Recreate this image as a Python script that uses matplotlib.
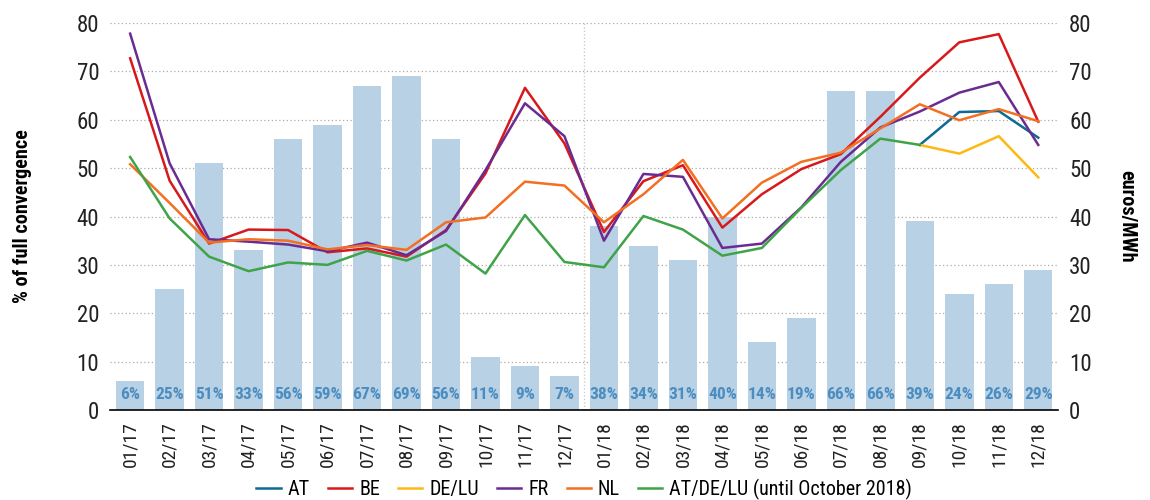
import matplotlib
matplotlib.use("Agg")
import matplotlib.pyplot as plt
from matplotlib import font_manager
import numpy as np

months = ["01/17", "02/17", "03/17", "04/17", "05/17", "06/17", "07/17", "08/17",
          "09/17", "10/17", "11/17", "12/17", "01/18", "02/18", "03/18", "04/18",
          "05/18", "06/18", "07/18", "08/18", "09/18", "10/18", "11/18", "12/18"]

# % of full convergence (bars)
convergence = [6, 25, 51, 33, 56, 59, 67, 69, 56, 11, 9, 7,
               38, 34, 31, 40, 14, 19, 66, 66, 39, 24, 26, 29]

# day-ahead prices, euros/MWh
be = [72.7, 47.4, 34.4, 37.3, 37.2, 32.6, 33.4, 31.7, 37.2, 48.9, 66.6, 55.1,
      36.8, 47.3, 50.6, 37.7, 44.6, 49.8, 52.9, 60.6, 68.7, 76.0, 77.7, 59.6]
fr = [77.8, 51.0, 35.3, 34.8, 34.2, 32.8, 34.6, 32.0, 37.0, 49.6, 63.4, 56.6,
      35.0, 48.8, 48.2, 33.5, 34.4, 41.9, 51.3, 58.4, 61.7, 65.6, 67.8, 54.8]
nl = [50.8, 42.8, 34.6, 35.3, 35.0, 33.2, 34.1, 33.1, 38.8, 39.8, 47.2, 46.4,
      38.8, 44.6, 51.7, 39.6, 47.0, 51.3, 53.2, 58.2, 63.2, 59.9, 62.2, 59.7]
at_de_lu = [52.3, 39.6, 31.7, 28.7, 30.5, 30.0, 32.9, 30.9, 34.2, 28.2, 40.3, 30.6,
            29.5, 40.1, 37.3, 31.9, 33.5, 41.8, 49.6, 56.1, 54.8]
# split zones, starting from the last common month (09/18)
at = [54.8, 61.6, 61.8, 56.3]
de_lu = [54.8, 53.0, 56.6, 48.1]

# prefer a condensed face if one happens to be there
installed = {f.name for f in font_manager.fontManager.ttflist}
family = ["Liberation Sans", "DejaVu Sans"]
for cand in ["Liberation Sans Narrow", "Roboto Condensed", "Open Sans Condensed"]:
    if cand in installed:
        family = [cand] + family
        break
plt.rcParams["font.family"] = family

x = np.arange(len(months))
fig = plt.figure(figsize=(11.5, 5), dpi=100)
ax = fig.add_axes([0.096, 0.18, 0.824, 0.774])

ax.bar(x, convergence, width=0.72, color="#b9d1e5", zorder=1)
for i, v in enumerate(convergence):
    ax.text(i, 3.3, f"{v}%", ha="center", va="center", fontsize=12.5,
            fontweight="bold", color="#4b8dc0", zorder=3)

split = len(at_de_lu) - 1
ax.plot(x[split:], at, color="#0f6b93", lw=1.8, label="AT", zorder=4)
ax.plot(x, be, color="#d7191c", lw=1.8, label="BE", zorder=4)
ax.plot(x[split:], de_lu, color="#fdb913", lw=1.8, label="DE/LU", zorder=4)
ax.plot(x, fr, color="#6a2c91", lw=1.8, label="FR", zorder=4)
ax.plot(x, nl, color="#f36f21", lw=1.8, label="NL", zorder=4)
ax.plot(x[:len(at_de_lu)], at_de_lu, color="#3fa348", lw=1.8,
        label="AT/DE/LU (until October 2018)", zorder=4)

ax.axvline(11.5, color="#cccccc", lw=1, ls=(0, (1, 1.5)), zorder=0)

ax.set_xlim(-0.5, 23.5)
ax.set_ylim(0, 80)
ax.set_yticks(range(0, 81, 10))
ax.grid(axis="y", color="#aaaaaa", lw=0.9, ls=(0, (1, 2)), zorder=0)
ax.set_axisbelow(True)
for s in ["top", "left", "right"]:
    ax.spines[s].set_visible(False)
ax.spines["bottom"].set_color("black")
ax.spines["bottom"].set_linewidth(1.2)
ax.set_xticks(x)
ax.set_xticklabels(months, rotation=90, fontsize=14, color="#222222")
ax.tick_params(axis="x", length=0, pad=8)
ax.tick_params(axis="y", length=0, labelsize=16.5, pad=8, colors="#222222")
ax.set_ylabel("% of full convergence", fontsize=14.5, fontweight="bold", labelpad=32)

ax2 = ax.twinx()
ax2.set_ylim(0, 80)
ax2.set_yticks(range(0, 81, 10))
for s in ["top", "left", "right", "bottom"]:
    ax2.spines[s].set_visible(False)
ax2.tick_params(axis="y", length=0, labelsize=16.5, pad=8, colors="#222222")
ax2.set_ylabel("euros/MWh", fontsize=14.5, fontweight="bold", rotation=-90, labelpad=32)

ax.legend(loc="center", bbox_to_anchor=(0.5, -0.205), ncol=6, frameon=False,
          fontsize=14.5, handlelength=1.2, handletextpad=0.35, columnspacing=0.9)

fig.savefig("out.png", dpi=100)
